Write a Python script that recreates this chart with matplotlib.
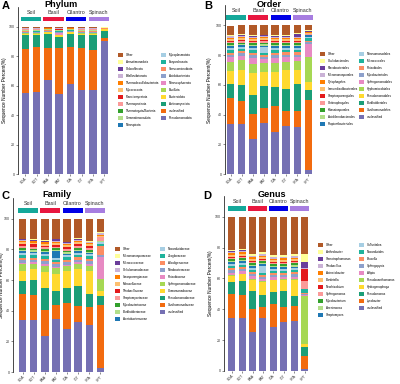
import matplotlib.pyplot as plt
from matplotlib.patches import Patch, Rectangle
import numpy as np

plt.rcParams['font.family'] = ['Liberation Sans', 'DejaVu Sans']

samples = ["SOA", "SOT", "BAA", "BAT", "CIA", "CIT", "SPA", "SPT"]
groups = ["Soil", "Basil", "Cilantro", "Spinach"]
group_colors = ["#14A89A", "#E8173F", "#0000E6", "#A77DE0"]

# legend order (top of stack first), same colours in every panel
taxa_colors = ["#B15928", "#FFFF99", "#6A3D9A", "#CAB2D6", "#FF7F00", "#FDBF6F",
               "#E31A1C", "#FB9A99", "#33A02C", "#B2DF8A", "#1F78B4",
               "#A6CEE3", "#1FB39C", "#FC8D62", "#8DA0CB", "#E78AC3", "#A6D854",
               "#FFD92F", "#1B9E77", "#F26B0F", "#7570B3"]

phylum_names = ["Other", "Armatimonadota", "Chloroflexota", "Bdellovibrionota",
                "Thermodesulfobacteriota", "Myxococcota", "Planctomycetota",
                "Thermoproteota", "Thermotogota/Bacteria", "Gemmatimonadota",
                "Nitrospirota", "Mycoplasmatota", "Euryarchaeota", "Verrucomicrobiota",
                "Acidobacteriota", "Nitrososphaerota", "Bacillota", "Bacteroidota",
                "Actinomycetota", "unclassified", "Pseudomonadota"]
phylum_values = [
    [0.5, 0.5, 0.4, 0.6, 0.4, 0.5, 0.5, 0.3],
    [0.2, 0.2, 0.2, 0.2, 0.2, 0.2, 0.2, 0.1],
    [0.1, 0.1, 0.1, 0.1, 0.1, 0.1, 0.1, 0.05],
    [0.4, 0.4, 0.3, 0.4, 0.3, 0.4, 0.4, 0.1],
    [0.1, 0.1, 0.1, 0.1, 0.1, 0.1, 0.1, 0.05],
    [0.3, 0.3, 0.2, 0.3, 0.2, 0.3, 0.3, 0.05],
    [0.1, 0.1, 0.1, 0.1, 0.1, 0.1, 0.1, 0.05],
    [0.3, 0.3, 0.2, 0.2, 0.2, 0.3, 0.3, 0.05],
    [0.1, 0.1, 0.1, 0.1, 0.1, 0.1, 0.1, 0.05],
    [0.4, 0.4, 0.3, 0.3, 0.3, 0.4, 0.4, 0.05],
    [0.1, 0.1, 0.1, 0.1, 0.1, 0.1, 0.1, 0.05],
    [0.2, 0.3, 0.1, 0.3, 0.2, 0.2, 0.2, 0.05],
    [0.2, 0.2, 0.1, 0.3, 0.1, 0.2, 0.2, 0.05],
    [0.3, 0.3, 0.2, 0.4, 0.2, 0.3, 0.3, 0.1],
    [0.8, 0.8, 0.6, 0.9, 0.6, 0.7, 0.8, 0.1],
    [0.2, 0.2, 0.2, 0.8, 0.2, 0.2, 0.2, 0.1],
    [0.3, 0.3, 0.3, 0.4, 0.3, 0.3, 0.3, 0.2],
    [0.8, 0.8, 1.2, 1.0, 0.8, 0.7, 0.8, 1.5],
    [9.5, 8.5, 9.8, 8.0, 9.0, 9.0, 10.5, 4.5],
    [30.1, 30.4, 21.9, 31.4, 25.2, 29.5, 27.5, 2.2],
    [55.9, 56.6, 63.8, 54.3, 61.8, 57.5, 57.5, 90.3],
]

order_names = ["Other", "Caulobacterales", "Flavobacteriales", "Micromonosporales",
               "Cytophagales", "Immundisolibacterales", "Streptosporangiales",
               "Chitinophagales", "Kitasatosporales", "Acidiferrobacterales",
               "Propionibacteriales", "Nitrosomonadales", "Micrococcales",
               "Rhizobiales", "Mycobacteriales", "Sphingomonadales",
               "Hyphomicrobiales", "Pseudomonadales", "Burkholderiales",
               "Xanthomonadales", "unclassified"]
order_values = [
    [6.5, 6.0, 6.5, 6.0, 6.5, 6.5, 5.0, 3.0],
    [0.5, 0.5, 0.5, 0.5, 0.5, 0.5, 0.5, 1.0],
    [0.3, 0.3, 0.3, 0.3, 0.3, 0.3, 2.0, 0.2],
    [0.8, 0.8, 0.8, 0.8, 0.8, 0.8, 0.8, 0.3],
    [0.8, 0.8, 0.8, 0.8, 0.8, 0.8, 0.8, 0.4],
    [1.2, 1.2, 1.2, 1.2, 1.2, 1.2, 1.2, 0.8],
    [0.8, 0.8, 0.8, 0.7, 0.8, 0.8, 0.6, 0.2],
    [1.0, 1.0, 1.0, 1.0, 1.0, 1.0, 1.0, 0.2],
    [1.0, 1.0, 1.0, 0.9, 1.0, 1.0, 1.0, 0.2],
    [0.8, 0.8, 0.8, 1.0, 0.8, 0.8, 0.8, 0.3],
    [1.0, 0.9, 1.0, 1.2, 1.0, 1.0, 1.0, 1.2],
    [1.7, 1.6, 1.7, 3.5, 1.7, 1.6, 1.5, 1.0],
    [1.8, 1.5, 1.8, 1.5, 1.8, 1.5, 1.6, 1.5],
    [1.5, 1.5, 1.5, 1.5, 1.5, 1.5, 1.5, 0.6],
    [1.4, 1.5, 1.8, 1.5, 1.5, 1.5, 1.5, 1.4],
    [3.2, 3.0, 4.0, 2.3, 3.7, 3.5, 3.0, 8.9],
    [6.2, 6.7, 5.7, 6.0, 6.0, 5.2, 6.1, 17.3],
    [8.3, 10.1, 14.8, 9.3, 9.7, 12.3, 8.9, 5.1],
    [9.7, 10.2, 12.4, 14.5, 12.8, 14.6, 18.0, 6.6],
    [17.2, 15.6, 16.8, 9.9, 17.0, 10.3, 10.7, 47.7],
    [33.0, 33.4, 23.3, 33.6, 27.8, 31.6, 31.2, 2.7],
]

family_names = ["Other", "Micromonosporaceae", "Micrococcaceae", "Cellulomonadaceae",
                "Intrasporangiaceae", "Moraxellaceae", "Thiobacillaceae",
                "Streptomycetaceae", "Mycobacteriaceae", "Burkholderiaceae",
                "Acetobacteraceae", "Nocardioidaceae", "Zoogloeaceae",
                "Alcaligenaceae", "Nitrobacteraceae", "Rhizobiaceae",
                "Sphingomonadaceae", "Comamonadaceae", "Pseudomonadaceae",
                "Xanthomonadaceae", "unclassified"]
family_values = [
    [13.0, 13.5, 14.0, 13.0, 15.0, 12.5, 14.5, 9.0],
    [0.5, 0.5, 0.5, 0.5, 0.5, 0.5, 0.5, 0.3],
    [0.3, 0.3, 0.3, 0.8, 0.3, 0.8, 0.3, 0.1],
    [0.6, 0.6, 0.6, 0.6, 0.6, 0.6, 0.6, 1.5],
    [0.8, 0.8, 0.8, 0.8, 0.8, 0.8, 0.8, 0.3],
    [1.2, 1.2, 1.2, 1.2, 1.2, 1.2, 1.2, 0.8],
    [1.5, 1.5, 1.2, 1.3, 1.2, 1.2, 1.2, 0.2],
    [1.2, 1.2, 1.2, 1.2, 1.2, 1.2, 1.2, 2.5],
    [1.2, 1.2, 1.2, 1.2, 1.2, 1.2, 1.2, 0.3],
    [0.8, 0.8, 0.8, 0.8, 0.8, 0.8, 0.8, 0.3],
    [1.0, 0.9, 1.0, 4.4, 1.0, 1.0, 1.0, 0.3],
    [1.3, 1.3, 1.3, 1.3, 1.3, 1.3, 1.3, 1.0],
    [2.0, 1.8, 1.8, 1.5, 1.8, 1.8, 1.8, 1.6],
    [1.5, 1.5, 1.5, 1.3, 1.5, 1.5, 1.5, 5.7],
    [1.6, 1.6, 1.8, 1.4, 1.6, 1.6, 1.5, 1.5],
    [1.2, 1.2, 1.3, 1.0, 1.2, 1.2, 1.2, 14.8],
    [4.3, 3.2, 3.8, 3.7, 3.3, 3.3, 3.9, 7.4],
    [6.6, 7.0, 10.4, 11.5, 10.9, 10.9, 14.6, 3.9],
    [8.4, 10.0, 14.6, 8.7, 9.6, 12.8, 8.7, 5.4],
    [17.0, 16.1, 16.7, 9.6, 16.9, 10.6, 11.5, 42.0],
    [33.7, 34.3, 23.5, 34.3, 28.3, 32.0, 30.9, 2.6],
]

genus_names = ["Other", "Arthrobacter", "Stenotrophomonas", "Thiobacillus",
               "Acinetobacter", "Bordetella", "Neorhizobium", "Sphingomonas",
               "Mycobacterium", "Arenimonas", "Streptomyces", "Sulfuritalea",
               "Nocardioides", "Brucella", "Sphingopyxis", "Afipia",
               "Pseudoxanthomonas", "Hydrogenophaga", "Pseudomonas", "Lysobacter",
               "unclassified"]
genus_values = [
    [21.1, 20.7, 24.0, 23.0, 25.0, 25.0, 23.5, 24.0],
    [1.0, 1.0, 1.0, 1.0, 1.0, 1.0, 1.0, 5.4],
    [0.4, 0.4, 0.4, 0.4, 0.4, 0.4, 0.4, 4.3],
    [0.8, 0.8, 0.8, 0.8, 0.8, 0.8, 0.8, 0.2],
    [1.0, 1.0, 1.0, 1.0, 1.0, 1.0, 1.0, 0.1],
    [1.2, 1.2, 1.2, 1.2, 1.2, 1.2, 1.2, 0.2],
    [0.5, 0.5, 0.5, 0.5, 0.5, 0.5, 0.5, 7.6],
    [0.8, 0.8, 0.8, 0.8, 0.8, 0.8, 0.8, 5.0],
    [1.4, 1.4, 1.4, 1.3, 1.4, 1.4, 1.4, 0.1],
    [0.8, 0.8, 0.8, 0.8, 0.8, 0.8, 0.8, 0.1],
    [1.1, 1.0, 1.0, 1.3, 1.0, 1.0, 1.0, 0.1],
    [1.5, 1.5, 1.4, 4.5, 1.4, 1.4, 1.4, 0.2],
    [1.1, 1.1, 1.1, 1.2, 1.1, 1.1, 1.1, 2.3],
    [1.3, 1.3, 1.3, 1.2, 1.3, 1.3, 1.3, 0.6],
    [1.5, 1.5, 1.5, 1.3, 1.5, 1.5, 1.5, 0.8],
    [1.7, 1.6, 1.8, 1.5, 1.6, 1.6, 1.6, 0.5],
    [0.5, 0.5, 0.6, 0.6, 0.5, 0.5, 0.5, 31.3],
    [3.7, 3.9, 7.5, 8.7, 7.5, 6.9, 9.9, 2.1],
    [8.0, 9.5, 11.2, 7.5, 7.6, 10.4, 6.5, 5.9],
    [15.1, 14.7, 15.2, 7.2, 15.1, 9.7, 9.5, 8.2],
    [33.5, 33.9, 24.8, 34.3, 28.5, 32.2, 31.3, 1.5],
]

W, H = 400, 384
fig = plt.figure(figsize=(W / 100, H / 100), dpi=100)


def px(x, y):
    return x / W, 1 - y / H


def draw_panel(letter, title, names, values, left, c0, c7, bottom, y100,
               title_xy, letter_xy, legend_xy, ylabel_x, colspace):
    top_val = 113.5
    sp = (c7 - c0) / 7
    right = c7 + 0.55 * sp
    top = bottom - (bottom - y100) * top_val / 100
    ax = fig.add_axes([left / W, 1 - bottom / H, (right - left) / W, (bottom - top) / H])

    vals = np.array(values, dtype=float)
    vals = vals / vals.sum(axis=0) * 100
    x = np.arange(len(samples))
    base = np.zeros(len(samples))
    handles = [None] * len(names)
    for i in range(len(names) - 1, -1, -1):
        ax.bar(x, vals[i], 0.66, bottom=base, color=taxa_colors[i], linewidth=0)
        base += vals[i]
        handles[i] = Patch(facecolor=taxa_colors[i], edgecolor='none', label=names[i])

    for g, (name, col) in enumerate(zip(groups, group_colors)):
        ax.add_patch(Rectangle((2 * g - 0.4, 104.0), 1.8, 3.0, facecolor=col,
                               edgecolor='none', clip_on=False))
        ax.text(2 * g + 0.5, 110.0, name, ha='center', va='center', fontsize=3.9,
                color='#333333')

    ax.set_xlim(-(c0 - left) / sp, 7 + 0.55)
    ax.set_ylim(0, top_val)
    ax.set_yticks([0, 20, 40, 60, 80, 100])
    ax.set_xticks(x)
    ax.set_xticklabels(samples, rotation=45, ha='right', rotation_mode='anchor')
    ax.tick_params(axis='both', labelsize=2.6, length=1.2, width=0.4, pad=1,
                   colors='#333333')
    for s in ['top', 'right', 'bottom']:
        ax.spines[s].set_visible(False)
    ax.spines['left'].set_linewidth(0.5)
    ax.set_ylabel("Sequence Number Percent(%)", fontsize=3.4)
    ax.yaxis.set_label_coords((ylabel_x - left) / (right - left), 0.5)

    fx, fy = px(*title_xy)
    fig.text(fx, fy, title, ha='center', va='center', fontsize=6.6, fontweight='bold')
    lx, ly = px(*letter_xy)
    fig.text(lx, ly, letter, ha='left', va='center', fontsize=8, fontweight='bold')

    gx, gy = px(*legend_xy)
    fig.legend(handles=handles, loc='upper left', bbox_to_anchor=(gx, gy), ncol=2,
               frameon=False, fontsize=2.2, handlelength=1.7, handleheight=1.7,
               handletextpad=0.8, labelspacing=0.95, columnspacing=colspace,
               borderaxespad=0, borderpad=0)


draw_panel("A", "Phylum", phylum_names, phylum_values, 18, 25.3, 104.3, 174, 27,
           (61, 4.5), (2, 6), (118, 53), 7, 0.7)
draw_panel("B", "Order", order_names, order_values, 225, 230.7, 308.3, 174, 25.5,
           (269, 4.5), (204, 6), (320, 52), 212, 0.4)
draw_panel("C", "Family", family_names, family_values, 13, 22.7, 100.3, 372, 218.7,
           (57, 194.5), (2, 196), (115, 247), 4, 2.9)
draw_panel("D", "Genus", genus_names, genus_values, 224, 231.7, 304.5, 371, 216.7,
           (272, 194.5), (203, 196), (318, 243), 213, 2.6)

fig.savefig("out.png", dpi=100)
